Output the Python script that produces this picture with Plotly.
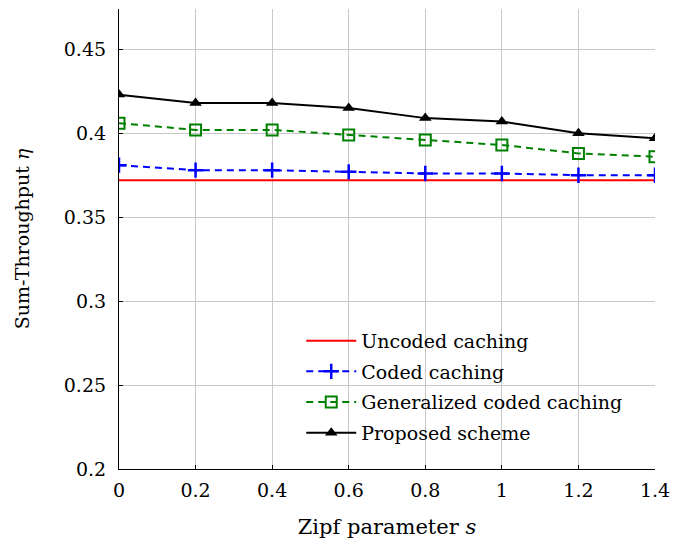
import plotly.graph_objects as go

zipf_s = [0, 0.2, 0.4, 0.6, 0.8, 1.0, 1.2, 1.4]
uncoded = [0.372] * 8
coded = [0.381, 0.378, 0.378, 0.377, 0.376, 0.376, 0.375, 0.375]
generalized = [0.406, 0.402, 0.402, 0.399, 0.396, 0.393, 0.388, 0.386]
proposed = [0.423, 0.418, 0.418, 0.415, 0.409, 0.407, 0.400, 0.397]

x_ticks = [0, 0.2, 0.4, 0.6, 0.8, 1.0, 1.2, 1.4]
x_tick_text = ["0", "0.2", "0.4", "0.6", "0.8", "1", "1.2", "1.4"]
y_ticks = [0.2, 0.25, 0.3, 0.35, 0.4, 0.45]
y_tick_text = ["0.2", "0.25", "0.3", "0.35", "0.4", "0.45"]

FONT = "DejaVu Serif"

fig = go.Figure()
fig.add_trace(go.Scatter(
    x=zipf_s, y=uncoded, mode="lines", name="Uncoded caching",
    legendgroup="a", line=dict(color="#ff0000", width=2)))
fig.add_trace(go.Scatter(
    x=zipf_s, y=coded, mode="lines+markers", name="Coded caching",
    legendgroup="b", line=dict(color="#0000ff", width=2, dash="7px,5px"),
    marker=dict(symbol="cross-thin", size=11, line=dict(color="#0000ff", width=2.5))))
fig.add_trace(go.Scatter(
    x=zipf_s, y=generalized, mode="lines+markers", name="Generalized coded caching",
    legendgroup="c", line=dict(color="#008000", width=2, dash="7px,5px"),
    marker=dict(symbol="square-open", size=11, color="#008000",
                line=dict(color="#008000", width=2))))
fig.add_trace(go.Scatter(
    x=zipf_s, y=proposed, mode="lines+markers", name="Proposed scheme",
    legendgroup="d", line=dict(color="#000000", width=2),
    marker=dict(symbol="triangle-up", size=11, color="#000000")))

fig.update_layout(
    width=689, height=546,
    margin=dict(l=111, r=42, t=1, b=85),
    plot_bgcolor="white", paper_bgcolor="white",
    font=dict(family=FONT, size=19, color="black"),
    showlegend=True,
    legend=dict(x=0.34, y=0.32, xanchor="left", yanchor="top",
                bgcolor="rgba(0,0,0,0)", font=dict(family=FONT, size=19),
                tracegroupgap=3, itemwidth=50),
    xaxis=dict(range=[0, 1.4], tickvals=x_ticks, ticktext=x_tick_text,
               showgrid=True, gridcolor="#c8c8c8", gridwidth=1,
               showline=True, linecolor="black", linewidth=1.2,
               ticks="inside", ticklen=4, tickcolor="black",
               zeroline=False, tickfont=dict(family=FONT, size=19),
               ticklabelstandoff=4,
               title=dict(text="Zipf parameter <i>s</i>", standoff=19,
                          font=dict(family=FONT, size=21))),
    yaxis=dict(range=[0.2, 0.474], tickvals=y_ticks, ticktext=y_tick_text,
               showgrid=True, gridcolor="#c8c8c8", gridwidth=1,
               showline=True, linecolor="black", linewidth=1.2,
               ticks="inside", ticklen=4, tickcolor="black",
               zeroline=False, tickfont=dict(family=FONT, size=19),
               ticklabelstandoff=8,
               title=dict(text="Sum-Throughput <i>η</i>", standoff=29,
                          font=dict(family=FONT, size=19))),
)

fig.write_html("out.html")
